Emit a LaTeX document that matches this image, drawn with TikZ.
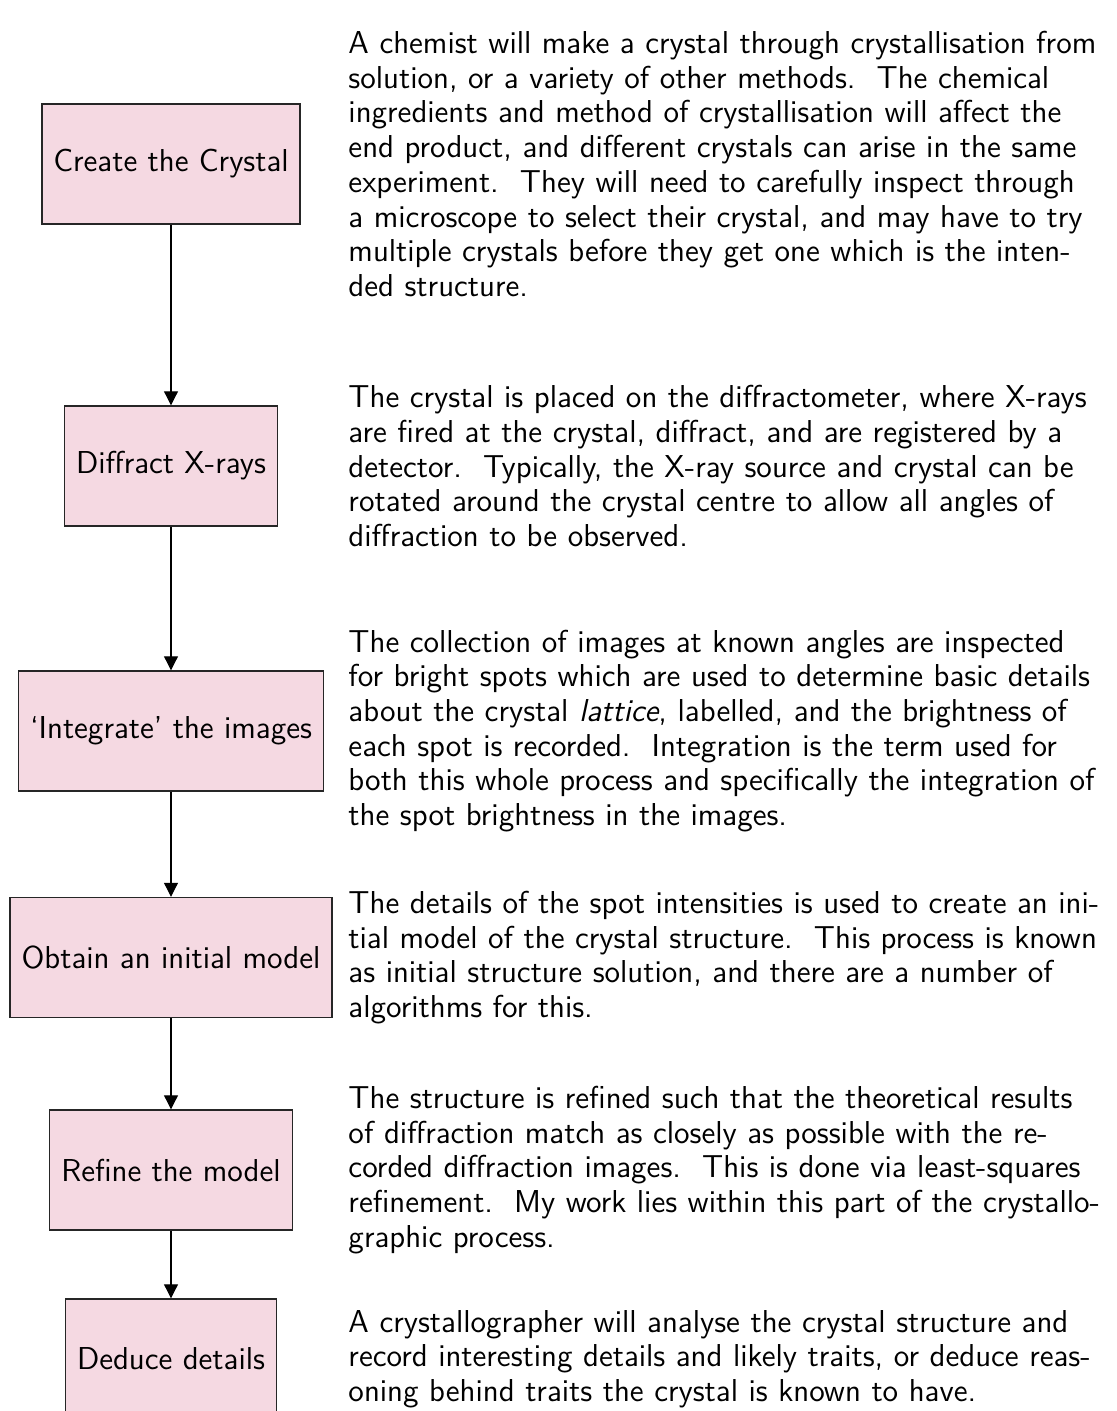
\documentclass[tikz,border=0pt]{standalone}
\usetikzlibrary{arrows.meta}
% one justified line of a paragraph, and a final (ragged) line
\newcommand\jline[1]{\hbox to\linewidth{#1}}
\newcommand\lline[1]{\hbox{#1}}
\begin{document}
\begin{tikzpicture}[x=0.41667pt,y=-0.41667pt,
  txt/.style={font=\fontsize{13.2}{14.46}\selectfont\sffamily},
  stepbox/.style={txt, draw=black!85, line width=0.6pt, fill=purple!15,
    minimum height=50pt, inner xsep=4.8pt},
  note/.style={txt, anchor=west, inner sep=0pt, text width=318.75pt},
  flow/.style={-{Triangle[width=5.8pt,length=5.8pt]}, line width=0.45pt}]
\useasboundingbox (0,0) rectangle (1117,1411);

% process steps
\node[stepbox] (s1) at (171,164)   {Create the Crystal};
\node[stepbox] (s2) at (171,466)   {Diffract X-rays};
\node[stepbox] (s3) at (171,731)   {‘Integrate’ the images};
\node[stepbox] (s4) at (171,957.5) {Obtain an initial model};
\node[stepbox] (s5) at (171,1170)  {Refine the model};
\node[stepbox] (s6) at (171,1359)  {Deduce details};

\draw[flow] (s1) -- (s2);
\draw[flow] (s2) -- (s3);
\draw[flow] (s3) -- (s4);
\draw[flow] (s4) -- (s5);
\draw[flow] (s5) -- (s6);

% descriptions beside each step
\node[note] (d1) at (348,164) {%
\jline{A chemist will make a crystal through crystallisation from}
\jline{solution, or a variety of other methods.\ \ The chemical}
\jline{ingredients and method of crystallisation will affect the}
\jline{end product, and different crystals can arise in the same}
\jline{experiment.\ \ They will need to carefully inspect through}
\jline{a microscope to select their crystal, and may have to try}
\jline{multiple crystals before they get one which is the inten-}
\lline{ded structure.}};

\node[note] (d2) at (348,466) {%
\jline{The crystal is placed on the diffractometer, where X-rays}
\jline{are fired at the crystal, diffract, and are registered by a}
\jline{detector.\ \ Typically, the X-ray source and crystal can be}
\jline{rotated around the crystal centre to allow all angles of}
\lline{diffraction to be observed.}};

\node[note] (d3) at (348,731) {%
\jline{The collection of images at known angles are inspected}
\jline{for bright spots which are used to determine basic details}
\jline{about the crystal \textsl{lattice}, labelled, and the brightness of}
\jline{each spot is recorded.\ \ Integration is the term used for}
\jline{both this whole process and specifically the integration of}
\lline{the spot brightness in the images.}};

\node[note] (d4) at (348,957.5) {%
\jline{The details of the spot intensities is used to create an ini-}
\jline{tial model of the crystal structure.\ \ This process is known}
\jline{as initial structure solution, and there are a number of}
\lline{algorithms for this.}};

\node[note] (d5) at (348,1170) {%
\jline{The structure is refined such that the theoretical results}
\jline{of diffraction match as closely as possible with the re-}
\jline{corded diffraction images.\ \ This is done via least-squares}
\jline{refinement.\ \ My work lies within this part of the crystallo-}
\lline{graphic process.}};

\node[note] (d6) at (348,1359) {%
\jline{A crystallographer will analyse the crystal structure and}
\jline{record interesting details and likely traits, or deduce reas-}
\lline{oning behind traits the crystal is known to have.}};
\end{tikzpicture}
\end{document}
